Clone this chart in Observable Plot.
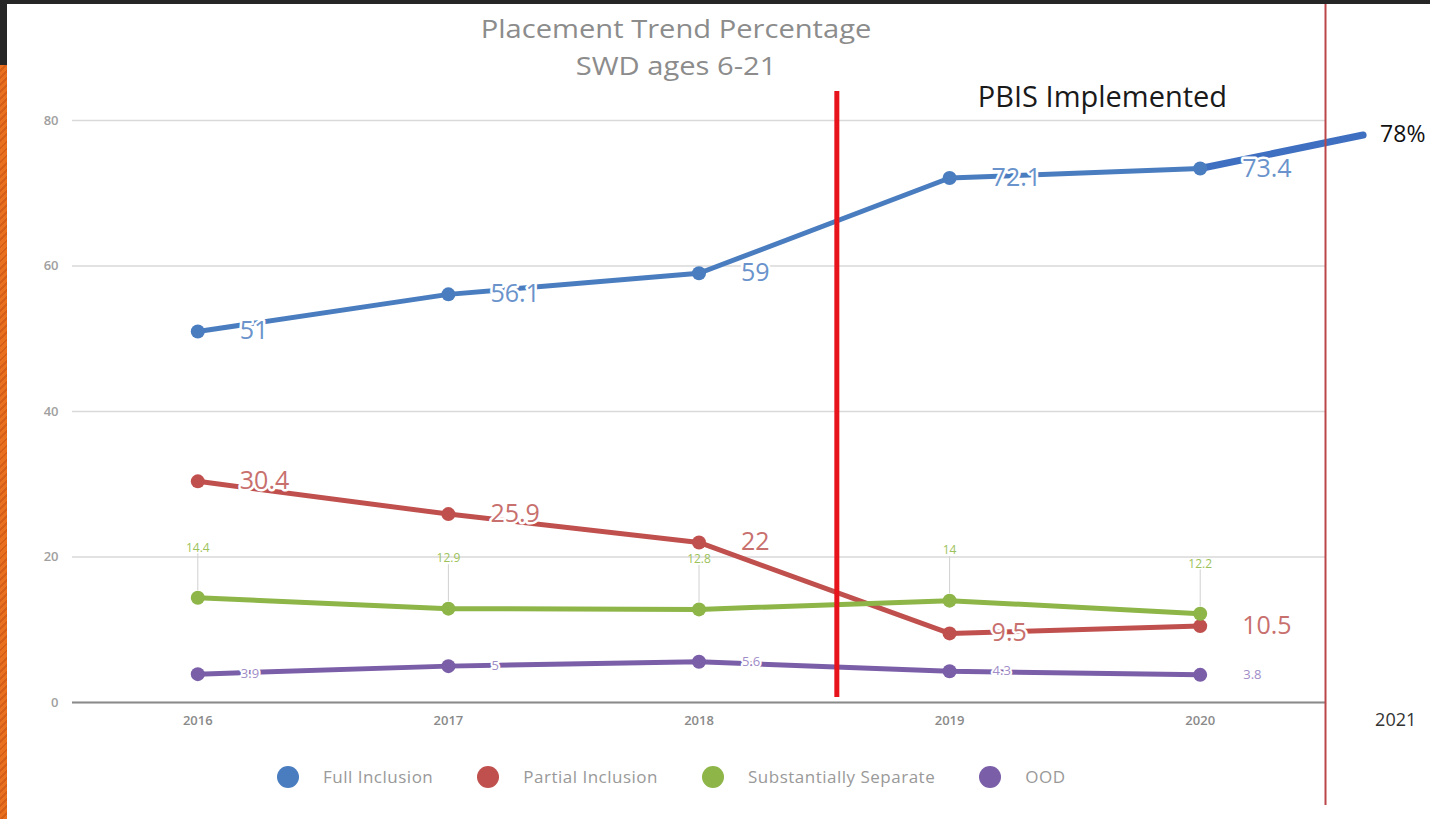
<!DOCTYPE html>
<html>
<head>
<meta charset="utf-8">
<script src="https://cdn.jsdelivr.net/npm/d3@7"></script>
<script src="https://cdn.jsdelivr.net/npm/@observablehq/plot@0.6"></script>
<style>
  html, body { margin: 0; padding: 0; background: #fff; }
  body { width: 1430px; height: 819px; overflow: hidden; position: relative; font-family: "Open Sans", sans-serif; }
  #topbar { position: absolute; left: 0; top: 0; width: 1430px; height: 4px; background: #262626; }
  #leftdark { position: absolute; left: 0; top: 0; width: 7px; height: 65px; background: #262626; }
  #leftorange { position: absolute; left: 0; top: 65px; width: 7px; height: 754px;
    background: repeating-linear-gradient(135deg, #e8701e 0 3px, #d65f18 3px 5px); }
  #chart { position: absolute; left: 0; top: 0; }
  .title { position: absolute; left: 0; width: 1352px; text-align: center; color: #8c8c8c;
    font-size: 26px; line-height: 34px; height: 34px; transform: scaleX(1.12); transform-origin: 676px 50%; }
  #title1 { top: 11px; }
  #title2 { top: 48px; }
  #legend { position: absolute; left: 277px; top: 765px; display: flex; align-items: center; gap: 44px;
    font-size: 17px; letter-spacing: 0.5px; color: #999; }
  .item { display: flex; align-items: center; gap: 24px; }
  .sw { width: 22px; height: 22px; border-radius: 50%; }
</style>
</head>
<body>
<div id="chart"></div>
<div id="topbar"></div>
<div id="leftdark"></div>
<div id="leftorange"></div>
<div class="title" id="title1">Placement Trend Percentage</div>
<div class="title" id="title2">SWD ages 6-21</div>
<div id="legend"></div>
<script>
// ---- data ----
const years = [2016, 2017, 2018, 2019, 2020];
const fullInclusion = [51, 56.1, 59, 72.1, 73.4];
const partialInclusion = [30.4, 25.9, 22, 9.5, 10.5];
const substantiallySeparate = [14.4, 12.9, 12.8, 14, 12.2];
const ood = [3.9, 5, 5.6, 4.3, 3.8];
const seriesNames = ["Full Inclusion", "Partial Inclusion", "Substantially Separate", "OOD"];
const seriesColors = ["#4a7dbf", "#c0504d", "#8db547", "#7a5ea8"];
const labelColors = ["#6a93cb", "#c8706e", "#9dc25b", "#a08dc8"];
const yTicks = [0, 20, 40, 60, 80];
const projectionYears = [2020, 2020.65];
const projectionValues = [73.4, 78];
const projectionLabel = "78%";
const pbisYear = 2018.55;
const pbisRange = [0.7, 84];
const pbisLabel = "PBIS Implemented";
const pbisLabelPos = [2019.61, 83.2];
const dividerYear = 2020.5;
const extraYearLabel = "2021";
const extraYearPos = 2020.78;

// ---- tables ----
const seriesValues = [fullInclusion, partialInclusion, substantiallySeparate, ood];
const rows = seriesNames.flatMap((name, i) =>
  years.map((year, j) => ({series: name, year, value: seriesValues[i][j]})));
const bySeries = name => rows.filter(d => d.series === name);
const projection = projectionYears.map((year, i) => ({year, value: projectionValues[i]}));
const fmt = v => String(v);

const chart = Plot.plot({
  width: 1430,
  height: 819,
  marginTop: 120,
  marginBottom: 117,
  marginLeft: 72,
  marginRight: 105,
  x: {domain: [2015.5, 2020.5]},
  y: {domain: [0, 80]},
  color: {domain: seriesNames, range: seriesColors},
  style: {fontFamily: '"Open Sans", sans-serif', background: "transparent", overflow: "visible"},
  marks: [
    Plot.gridY(yTicks, {stroke: "#d9d9d9", strokeOpacity: 1, strokeWidth: 1.5}),
    Plot.ruleY([0], {stroke: "#8a8a8a", strokeWidth: 2}),
    Plot.axisY(yTicks, {tickSize: 0, tickPadding: 14, fontSize: 13, fontWeight: 600, fill: "#a0a0a0", label: null}),
    Plot.axisX(years, {tickSize: 0, tickPadding: 13, fontSize: 13, fontWeight: 600, fill: "#8a8a8a", tickFormat: fmt, label: null}),
    Plot.text([extraYearLabel], {x: () => extraYearPos, y: () => 0, dy: 18, text: d => d, fontSize: 18, fill: "#333"}),
    // green leader lines
    Plot.vector(bySeries(seriesNames[2]), {
      x: "year", y: "value", length: 44, rotate: 0, anchor: "start",
      stroke: "#d0d0d0", strokeWidth: 1,
      shape: {draw(ctx, l) { ctx.moveTo(0, -8); ctx.lineTo(0, -l); }}
    }),
    // projection
    Plot.line(projection, {x: "year", y: "value", stroke: "#3f6fc0", strokeWidth: 7}),
    Plot.text(projection.slice(-1), {x: "year", y: "value", text: () => projectionLabel, dx: 17, textAnchor: "start", fontSize: 23, fill: "#111"}),
    // series
    Plot.line(rows, {x: "year", y: "value", z: "series", stroke: "series", strokeWidth: 5}),
    Plot.dot(rows, {x: "year", y: "value", fill: "series", r: 7}),
    // labels
    Plot.text(bySeries(seriesNames[0]), {x: "year", y: "value", text: d => fmt(d.value), dx: 42, textAnchor: "start", fontSize: 25, fill: labelColors[0], stroke: "white", strokeWidth: 5}),
    Plot.text(bySeries(seriesNames[1]), {x: "year", y: "value", text: d => fmt(d.value), dx: 42, textAnchor: "start", fontSize: 25, fill: labelColors[1], stroke: "white", strokeWidth: 5}),
    Plot.text(bySeries(seriesNames[2]), {x: "year", y: "value", text: d => fmt(d.value), dy: -50, fontSize: 12, fill: labelColors[2]}),
    Plot.text(bySeries(seriesNames[3]), {x: "year", y: "value", text: d => fmt(d.value), dx: 43, textAnchor: "start", fontSize: 13, fill: labelColors[3], stroke: "white", strokeWidth: 4}),
    // PBIS marker
    Plot.ruleX([pbisYear], {y1: pbisRange[0], y2: pbisRange[1], stroke: "#e8141b", strokeWidth: 5}),
    Plot.text([pbisLabel], {x: () => pbisLabelPos[0], y: () => pbisLabelPos[1], text: d => d, fontSize: 29, fill: "#1a1a1a"}),
    // divider
    Plot.ruleX([dividerYear], {stroke: "#b9474a", strokeWidth: 2, insetTop: -116, insetBottom: -103})
  ]
});
document.getElementById("chart").appendChild(chart);

const legend = document.getElementById("legend");
seriesNames.forEach((name, i) => {
  const item = document.createElement("div");
  item.className = "item";
  const sw = document.createElement("div");
  sw.className = "sw";
  sw.style.background = seriesColors[i];
  const label = document.createElement("span");
  label.textContent = name;
  item.appendChild(sw);
  item.appendChild(label);
  legend.appendChild(item);
});
</script>
</body>
</html>
